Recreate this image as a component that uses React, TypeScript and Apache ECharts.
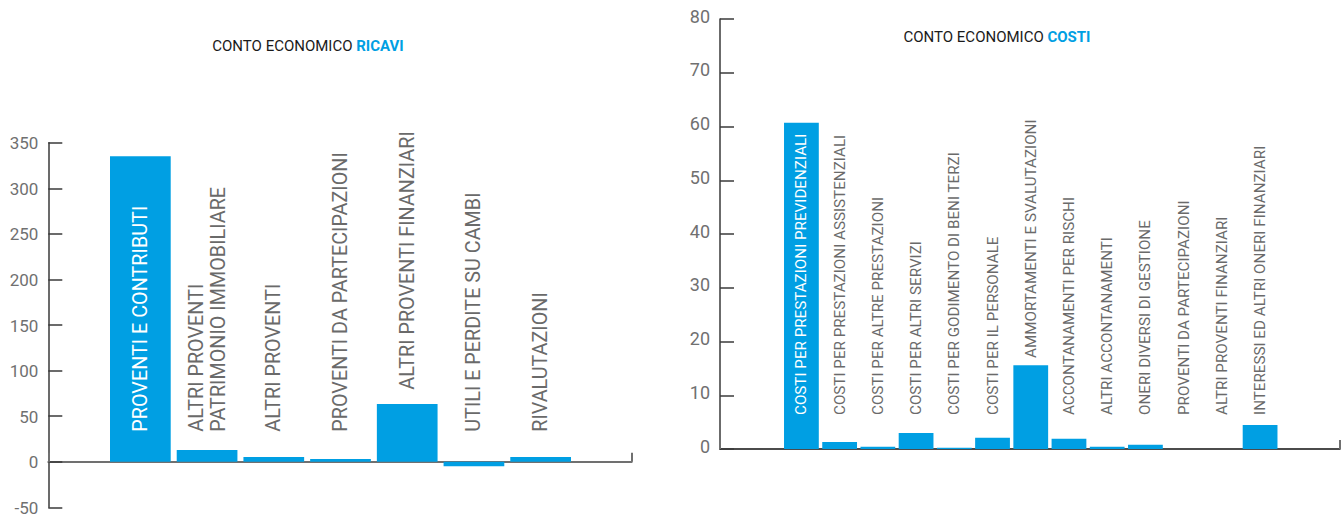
import React, { useEffect, useRef } from "react";
import * as echarts from "echarts";

// ---- data ----
const ricaviCategories = [
  "PROVENTI E CONTRIBUTI",
  "ALTRI PROVENTI\nPATRIMONIO IMMOBILIARE",
  "ALTRI PROVENTI",
  "PROVENTI DA PARTECIPAZIONI",
  "ALTRI PROVENTI FINANZIARI",
  "UTILI E PERDITE SU CAMBI",
  "RIVALUTAZIONI",
];
const ricaviValues = [335, 12.8, 5.2, 3, 63.3, -5.1, 5.2];

const costiCategories = [
  "COSTI PER PRESTAZIONI PREVIDENZIALI",
  "COSTI PER PRESTAZIONI ASSISTENZIALI",
  "COSTI PER ALTRE PRESTAZIONI",
  "COSTI PER ALTRI SERVIZI",
  "COSTI PER GODIMENTO DI BENI TERZI",
  "COSTI PER IL PERSONALE",
  "AMMORTAMENTI E SVALUTAZIONI",
  "ACCONTANAMENTI PER RISCHI",
  "ALTRI ACCONTANAMENTI",
  "ONERI DIVERSI DI GESTIONE",
  "PROVENTI DA PARTECIPAZIONI",
  "ALTRI PROVENTI FINANZIARI",
  "INTERESSI ED ALTRI ONERI FINANZIARI",
];
const costiValues = [60.7, 1.3, 0.4, 3.0, 0.25, 2.1, 15.6, 1.9, 0.4, 0.8, 0, 0, 4.45];

const ricaviTitle = ["CONTO ECONOMICO ", "RICAVI"];
const costiTitle = ["CONTO ECONOMICO ", "COSTI"];

const ricaviScale = { min: -50, max: 350, interval: 50 };
const costiScale = { min: 0, max: 80, interval: 10 };

// ---- styles ----
const BLUE = "#009FE3";
const FONT = "Roboto";
const LABEL_GREY = "#6a6a6a";
// extra lift (px) of category labels that sit above tall bars
const ricaviLabelLift: Record<number, number> = { 4: 42 };
const costiLabelLift: Record<number, number> = { 6: 57 };

const LEFT_GRID = { top: 142.7, bottom: 10.7 };
const RIGHT_GRID = { top: 19, bottom: 69 };
const H = 518;

function catData(cats: string[], lift: Record<number, number>) {
  return cats.map((c, i) => {
    const ts: any = {};
    if (i === 0) ts.color = "#ffffff";
    if (lift[i]) ts.padding = [0, 0, 0, lift[i]];
    return { value: c, textStyle: ts };
  });
}

function titleOpt(parts: string[], left: number, top: number) {
  return {
    text: `{a|${parts[0]}}{b|${parts[1]}}`,
    left,
    top,
    padding: 0,
    textAlign: "center",
    textVerticalAlign: "middle",
    textStyle: {
      fontWeight: "normal",
      rich: {
        a: { fontSize: 15, color: "#1a1a1a", fontFamily: FONT, fontWeight: "normal" },
        b: { fontSize: 15, color: BLUE, fontWeight: "bold", fontFamily: FONT },
      },
    },
  };
}

export default function App() {
  const ref = useRef<HTMLDivElement>(null);
  useEffect(() => {
    if (!ref.current) return;
    const chart = echarts.init(ref.current, null, { renderer: "svg" });

    const zeroOffset = (scale: any, grid: any) => {
      const h = H - grid.top - grid.bottom;
      return -((0 - scale.min) / (scale.max - scale.min)) * h;
    };

    const yAxisCommon = (scale: any, offset: number, gridIndex: number, fontSize: number, padding: number[]) => ({
      gridIndex,
      type: "value",
      min: scale.min,
      max: scale.max,
      interval: scale.interval,
      offset,
      axisLine: { show: true, onZero: false, lineStyle: { color: "#3a3a3a", width: 1.5 } },
      axisTick: { show: true, inside: true, length: 14, lineStyle: { color: "#3a3a3a", width: 1.5 } },
      axisLabel: {
        margin: 10,
        formatter: "{v|{value}}",
        rich: { v: { fontSize, color: "#707070", fontFamily: FONT, padding } },
      },
      splitLine: { show: false },
    });
    const catAxis = (gridIndex: number, data: any[], margin: number, fontSize: number, lineHeight: number, offset: number) => ({
      gridIndex,
      type: "category",
      data,
      z: 10,
      offset,
      axisLine: { show: false, onZero: false },
      axisTick: { show: false },
      axisLabel: {
        inside: true,
        rotate: 90,
        interval: 0,
        margin,
        fontSize,
        lineHeight,
        color: LABEL_GREY,
        fontFamily: FONT,
      },
      splitLine: { show: false },
    });
    const baseLine = (gridIndex: number, color: string, width: number, offset: number) => ({
      gridIndex,
      type: "value",
      min: 0,
      max: 1,
      interval: 1,
      offset,
      axisLine: { show: true, onZero: false, lineStyle: { color, width } },
      axisTick: { show: true, inside: true, length: 9, lineStyle: { color: "#707070", width: 2 } },
      axisLabel: { show: false },
      splitLine: { show: false },
    });
    const lOff = zeroOffset(ricaviScale, LEFT_GRID);
    const rOff = zeroOffset(costiScale, RIGHT_GRID);
    chart.setOption({
      animation: false,
      title: [titleOpt(ricaviTitle, 308, 46), titleOpt(costiTitle, 997, 37)],
      grid: [
        { left: 107, width: 467, ...LEFT_GRID, outerBoundsMode: "none" },
        { left: 48.3, width: 583.4, ...LEFT_GRID, outerBoundsMode: "none" },
        { left: 782.3, width: 496.9, ...RIGHT_GRID, outerBoundsMode: "none" },
        { left: 720, right: 1, ...RIGHT_GRID, outerBoundsMode: "none" },
      ],
      xAxis: [
        catAxis(0, catData(ricaviCategories, ricaviLabelLift), 30, 19.8, 22, lOff),
        baseLine(1, "#707070", 2, lOff),
        catAxis(2, catData(costiCategories, costiLabelLift), 34, 15.2, 18, rOff),
        baseLine(3, "#111111", 1.6, rOff),
      ],
      yAxis: [
        yAxisCommon(ricaviScale, 58.7, 0, 17, [1, 0, 0, 0]),
        { gridIndex: 1, type: "value", min: ricaviScale.min, max: ricaviScale.max, show: false },
        yAxisCommon(costiScale, 62.3, 2, 18, [0, 0, 6, 0]),
        { gridIndex: 3, type: "value", min: costiScale.min, max: costiScale.max, show: false },
      ],
      series: [
        {
          type: "bar",
          xAxisIndex: 0,
          yAxisIndex: 0,
          data: ricaviValues,
          barCategoryGap: "9%",
          itemStyle: { color: BLUE },
        },
        {
          type: "bar",
          xAxisIndex: 2,
          yAxisIndex: 2,
          data: costiValues,
          barCategoryGap: "9%",
          itemStyle: { color: BLUE },
        },
      ],
    });
    return () => chart.dispose();
  }, []);
  return (
    <div
      ref={ref}
      style={{ position: "absolute", left: 0, top: 0, width: 1341, height: 518, background: "#fff" }}
    />
  );
}
